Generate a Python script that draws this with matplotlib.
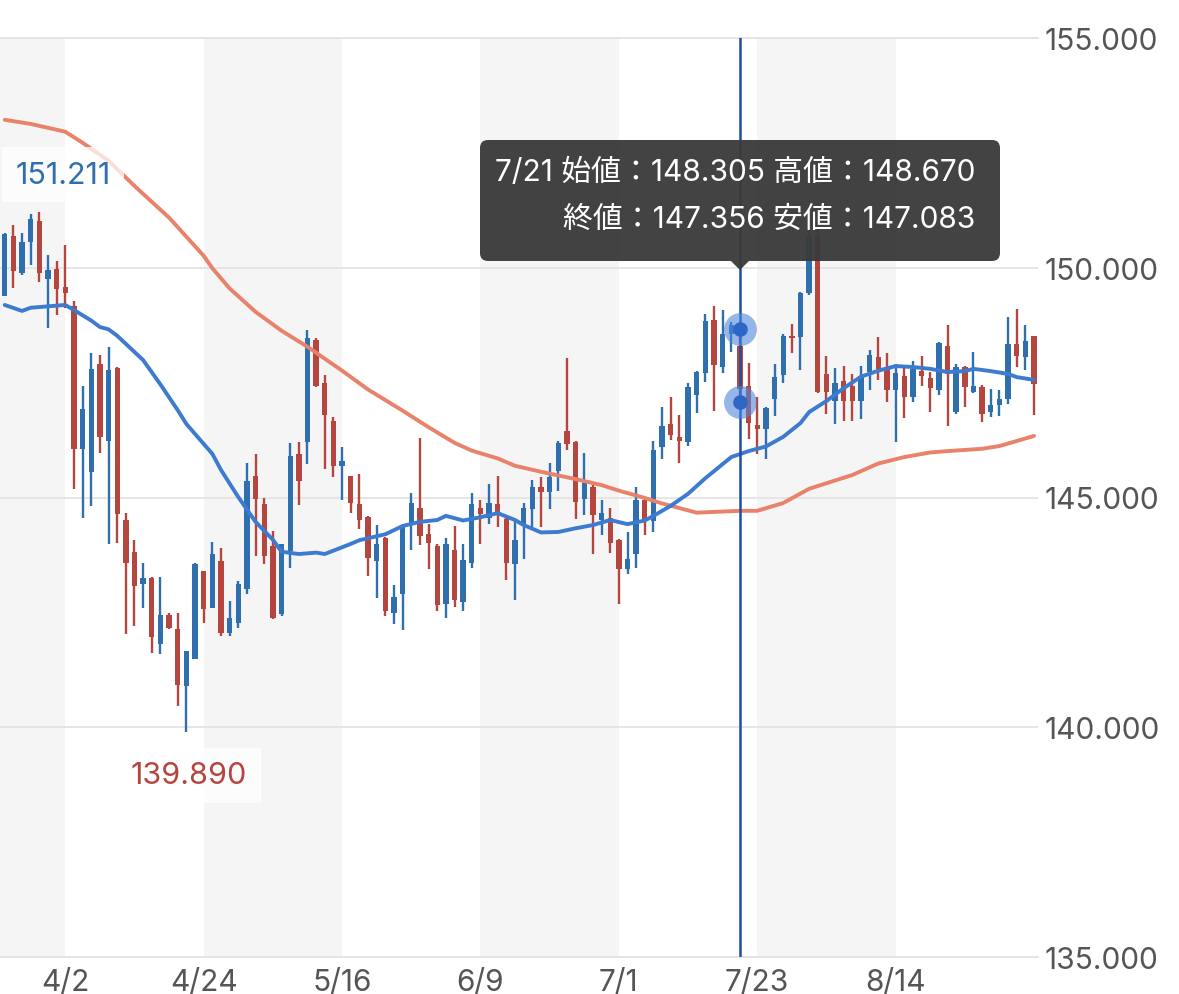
import numpy as np
import pandas as pd
import matplotlib
matplotlib.use("Agg")
import matplotlib.pyplot as plt
from matplotlib.patches import FancyBboxPatch, Polygon
from matplotlib.transforms import IdentityTransform

# daily candles, USD/JPY, starting 2025-03-24 (weekdays)
start_date = "2025-03-24"
opens = [149.38, 150.69, 149.89, 150.55, 151.02, 149.75, 149.98, 149.59, 149.16, 146.05,
         145.55, 147.91, 146.24, 147.82, 144.51, 143.82, 143.12, 143.24, 141.82, 142.44,
         142.13, 140.89, 141.48, 143.39, 142.60, 143.62, 142.06, 142.27, 143.00, 145.47,
         144.85, 143.95, 142.46, 143.84, 145.94, 146.20, 148.43, 147.49, 146.67, 145.69,
         145.47, 144.85, 144.58, 143.62, 144.11, 142.49, 142.89, 144.42, 144.78, 144.20,
         143.95, 142.69, 143.85, 142.73, 143.58, 144.78, 144.56, 144.85, 144.53, 143.55,
         144.42, 144.75, 145.23, 145.11, 145.57, 146.44, 146.20, 144.96, 145.23, 144.51,
         144.55, 144.07, 143.44, 143.78, 144.94, 144.48, 146.09, 146.61, 146.31, 146.21,
         147.22, 147.71, 148.87, 147.83, 148.56, 148.305, 147.43, 146.58, 146.48, 147.14,
         147.67, 148.51, 148.49, 149.45, 150.70, 147.69, 147.09, 147.54, 147.43, 147.11,
         147.74, 148.05, 147.83, 147.33, 147.64, 147.18, 147.76, 147.59, 147.33, 148.30,
         146.87, 147.85, 147.30, 147.40, 146.85, 147.01, 147.14, 148.34, 148.05, 148.52]
highs = [150.76, 150.94, 150.75, 151.16, 151.211, 150.27, 150.15, 150.49, 149.27, 147.43,
         148.15, 148.11, 148.28, 147.84, 144.67, 144.08, 143.58, 143.28, 143.28, 142.49,
         142.49, 141.67, 143.58, 143.40, 144.04, 143.91, 142.75, 143.18, 145.74, 145.94,
         145.00, 144.27, 143.98, 146.18, 146.20, 148.65, 148.47, 147.67, 146.76, 146.10,
         145.47, 145.52, 144.60, 144.40, 144.13, 143.10, 144.42, 145.09, 146.29, 144.43,
         143.98, 144.11, 144.38, 143.98, 145.09, 144.94, 145.29, 145.47, 144.56, 144.49,
         144.87, 145.38, 145.44, 145.76, 146.22, 148.04, 146.22, 145.96, 145.28, 144.94,
         144.77, 144.09, 144.24, 145.23, 144.99, 146.24, 146.98, 147.19, 146.80, 147.49,
         147.76, 149.00, 149.16, 149.07, 148.83, 148.670, 147.93, 147.18, 146.96, 147.91,
         148.56, 148.78, 149.48, 150.84, 150.88, 148.07, 147.81, 147.87, 147.69, 147.87,
         148.22, 148.49, 148.15, 147.91, 147.86, 147.96, 148.09, 147.74, 148.39, 148.76,
         147.91, 147.87, 148.16, 147.45, 147.37, 147.35, 148.92, 149.10, 148.75, 148.52]
lows = [149.38, 149.56, 149.85, 150.07, 149.69, 148.69, 148.98, 149.13, 145.18, 144.55,
        144.82, 145.97, 143.99, 144.00, 142.04, 142.20, 142.59, 141.62, 141.59, 142.13,
        140.46, 139.890, 141.48, 142.27, 142.60, 141.98, 141.98, 142.17, 142.89, 143.73,
        143.55, 142.35, 142.42, 143.46, 144.84, 145.73, 147.40, 145.62, 145.44, 144.94,
        144.67, 144.31, 143.29, 142.82, 142.42, 142.24, 142.11, 143.85, 143.97, 143.44,
        142.54, 142.38, 142.62, 142.54, 143.47, 143.98, 144.42, 144.35, 143.20, 142.78,
        143.66, 144.36, 144.35, 144.75, 145.15, 146.03, 144.53, 144.62, 143.76, 144.19,
        143.80, 142.69, 143.33, 143.46, 144.19, 144.24, 145.84, 146.25, 145.76, 146.11,
        146.84, 147.52, 146.89, 147.71, 148.16, 147.083, 146.27, 145.94, 145.84, 146.78,
        147.49, 148.15, 147.78, 149.40, 147.27, 146.82, 146.60, 146.67, 146.67, 146.71,
        147.33, 147.56, 147.07, 146.20, 146.72, 147.07, 147.42, 146.85, 147.23, 146.56,
        146.82, 146.96, 147.27, 146.65, 146.75, 146.77, 147.03, 147.85, 147.78, 146.80]
closes = [150.73, 149.93, 150.56, 151.07, 149.89, 149.96, 149.54, 149.44, 146.05, 146.93,
          147.80, 146.32, 147.78, 144.64, 143.58, 143.07, 143.24, 141.97, 142.44, 142.15,
          140.93, 141.66, 143.55, 142.57, 143.76, 142.06, 142.38, 143.11, 145.36, 144.96,
          143.73, 142.38, 143.98, 145.91, 145.36, 148.47, 147.43, 146.80, 145.69, 145.80,
          144.89, 144.51, 143.69, 143.98, 142.53, 142.83, 144.36, 144.89, 144.16, 144.02,
          142.67, 143.98, 142.76, 143.63, 144.85, 144.64, 144.89, 144.64, 143.58, 144.07,
          144.77, 145.23, 145.13, 145.44, 146.18, 146.16, 144.91, 145.31, 144.62, 144.67,
          144.00, 143.44, 143.66, 144.94, 144.51, 146.03, 146.56, 146.37, 146.22, 147.40,
          147.74, 148.85, 147.89, 148.56, 148.76, 147.356, 146.62, 146.48, 146.94, 147.62,
          148.52, 148.47, 149.45, 150.70, 147.29, 147.30, 147.49, 147.11, 147.11, 147.64,
          148.10, 147.80, 147.33, 147.72, 147.18, 147.80, 147.64, 147.38, 148.36, 147.69,
          147.83, 147.40, 147.43, 146.82, 147.01, 147.14, 148.34, 148.09, 148.41, 147.47]

# moving averages (candle index, value)
ma_short_idx = [0, 2, 3, 7, 8, 10, 11, 12, 13, 16, 18, 20, 21, 24, 25, 27, 29, 31, 32, 34,
                36, 37, 40, 41, 44, 46, 48, 50, 51, 53, 55, 57, 59, 60, 62, 64, 66, 68, 70, 72,
                74, 75, 77, 79, 81, 84, 86, 88, 90, 92, 93, 95, 97, 99, 101, 103, 105, 107, 109,
                111, 112, 114, 116, 117, 119]
ma_short_val = [149.19, 149.06, 149.13, 149.19, 149.08, 148.85, 148.71, 148.66, 148.52, 147.99,
                147.46, 146.90, 146.60, 145.95, 145.60, 145.01, 144.47, 144.08, 143.82, 143.77,
                143.80, 143.77, 143.99, 144.07, 144.20, 144.38, 144.47, 144.51, 144.60, 144.50,
                144.57, 144.66, 144.51, 144.40, 144.24, 144.25, 144.33, 144.40, 144.51, 144.42,
                144.50, 144.60, 144.82, 145.08, 145.42, 145.88, 146.01, 146.11, 146.32, 146.62,
                146.86, 147.10, 147.38, 147.63, 147.76, 147.86, 147.84, 147.80, 147.73, 147.75,
                147.80, 147.75, 147.69, 147.62, 147.56]
ma_long_idx = [0, 3, 7, 9, 12, 15, 19, 23, 24, 26, 29, 32, 35, 39, 42, 46, 49, 52, 54, 57,
               59, 62, 66, 69, 71, 74, 76, 79, 80, 85, 87, 90, 93, 98, 101, 104, 107, 109, 113,
               115, 119]
ma_long_val = [153.22, 153.13, 152.96, 152.72, 152.33, 151.78, 151.09, 150.26, 149.99, 149.55,
               149.04, 148.63, 148.28, 147.76, 147.35, 146.89, 146.53, 146.19, 146.02, 145.85,
               145.69, 145.56, 145.40, 145.27, 145.15, 144.99, 144.87, 144.72, 144.67, 144.71,
               144.71, 144.88, 145.19, 145.49, 145.74, 145.88, 145.98, 146.01, 146.06, 146.12,
               146.34]

hover_idx = 85
first_tick = 7
tick_every = 16

up_color = "#2f6fae"
down_color = "#b5463f"
fonts = ["Inter", "Noto Sans CJK JP", "DejaVu Sans"]
plt.rcParams["font.family"] = fonts

o = np.array(opens)
h = np.array(highs)
l = np.array(lows)
c = np.array(closes)
n = len(o)
x = np.arange(n)
dates = pd.bdate_range(start_date, periods=n)

fig = plt.figure(figsize=(11.79, 9.95), dpi=100)
ax = fig.add_axes([0, 37 / 995, 1038 / 1179, 919 / 995])
xmin, xmax = -0.55, 119.46
ax.set_xlim(xmin, xmax)
ax.set_ylim(135, 155)

# alternating background bands between date ticks
ticks = np.arange(first_tick, n - 8, tick_every)
edges = [xmin] + list(ticks) + [xmax]
for k in range(len(edges) - 1):
    if k % 2 == 0:
        ax.axvspan(edges[k], edges[k + 1], color="#f5f5f5", zorder=0, lw=0)

ax.set_yticks([135, 140, 145, 150, 155])
ax.yaxis.set_major_formatter(plt.FuncFormatter(lambda v, p: f"{v:.3f}"))
ax.yaxis.tick_right()
ax.grid(axis="y", color="#e2e2e2", lw=1.2, zorder=0.5)
ax.set_axisbelow(True)
ax.set_xticks(ticks)
ax.set_xticklabels([f"{dates[t].month}/{dates[t].day}" for t in ticks])
ax.tick_params(axis="both", length=0, labelsize=21.5, labelcolor="#555555")
ax.tick_params(axis="y", pad=5)
ax.tick_params(axis="x", pad=8)
for side in ["left", "right"]:
    ax.spines[side].set_visible(False)
for side in ["top", "bottom"]:
    ax.spines[side].set_color("#e2e2e2")
    ax.spines[side].set_linewidth(1.2)

# candles
up = c >= o
cols = np.where(up, up_color, down_color)
ax.vlines(x, l, h, colors=cols, lw=1.7, zorder=2)
body_lo = np.minimum(o, c)
body_h = np.maximum(np.abs(c - o), 0.03)
ax.bar(x, body_h, bottom=body_lo, width=0.62, color=cols, lw=0, zorder=2)

# moving averages
ax.plot(ma_long_idx, ma_long_val, color="#e8826b", lw=2.8, zorder=3, solid_capstyle="round")
ax.plot(ma_short_idx, ma_short_val, color="#3c7bd0", lw=2.8, zorder=3, solid_capstyle="round")

# max / min labels
imax = int(np.argmax(h))
imin = int(np.argmin(l))
ax.annotate(f"{h[imax]:.3f}", xy=(imax, h[imax]), xytext=(17, 27), textcoords="offset points",
            ha="center", va="center", fontsize=22, color=up_color, zorder=6,
            bbox=dict(boxstyle="square,pad=0.45", fc="white", ec="none", alpha=0.75))
ax.annotate(f"{l[imin]:.3f}", xy=(imin, l[imin]), xytext=(2, -31), textcoords="offset points",
            ha="center", va="center", fontsize=22, color=down_color, zorder=6,
            bbox=dict(boxstyle="square,pad=0.45", fc="white", ec="none", alpha=0.75))

# crosshair on hovered candle
ax.axvline(hover_idx, color="#1f4f9e", lw=1.8, zorder=4)
ax.scatter([hover_idx, hover_idx], [h[hover_idx], l[hover_idx]], s=560, color="#4f86db",
           alpha=0.6, lw=0, zorder=5)
ax.scatter([hover_idx, hover_idx], [h[hover_idx], l[hover_idx]], s=110, color="#2e66c8",
           lw=0, zorder=5)

# tooltip (pixel coordinates, origin bottom-left)
H = 995
fig.canvas.draw()
px, _ = ax.transData.transform((hover_idx, 150))
box = FancyBboxPatch((480, H - 262), 520, 121, boxstyle="round,pad=0,rounding_size=8",
                     transform=IdentityTransform(), fc="#3b3b3b", ec="none", alpha=0.96, zorder=10)
fig.add_artist(box)
tri = Polygon([[px - 9, H - 262], [px + 9, H - 262], [px, H - 271]], closed=True,
              transform=IdentityTransform(), fc="#3b3b3b", ec="none", alpha=0.96, zorder=10)
fig.add_artist(tri)
d = dates[hover_idx]
line1 = f"{d.month}/{d.day} 始値：{o[hover_idx]:.3f} 高値：{h[hover_idx]:.3f}"
line2 = f"終値：{c[hover_idx]:.3f} 安値：{l[hover_idx]:.3f}"
fig.text(975 / 1179, 1 - 173 / H, line1, ha="right", va="center", color="white", fontsize=21.5,
         zorder=11)
fig.text(975 / 1179, 1 - 220 / H, line2, ha="right", va="center", color="white", fontsize=21.5,
         zorder=11)

fig.savefig("out.png", dpi=100)
